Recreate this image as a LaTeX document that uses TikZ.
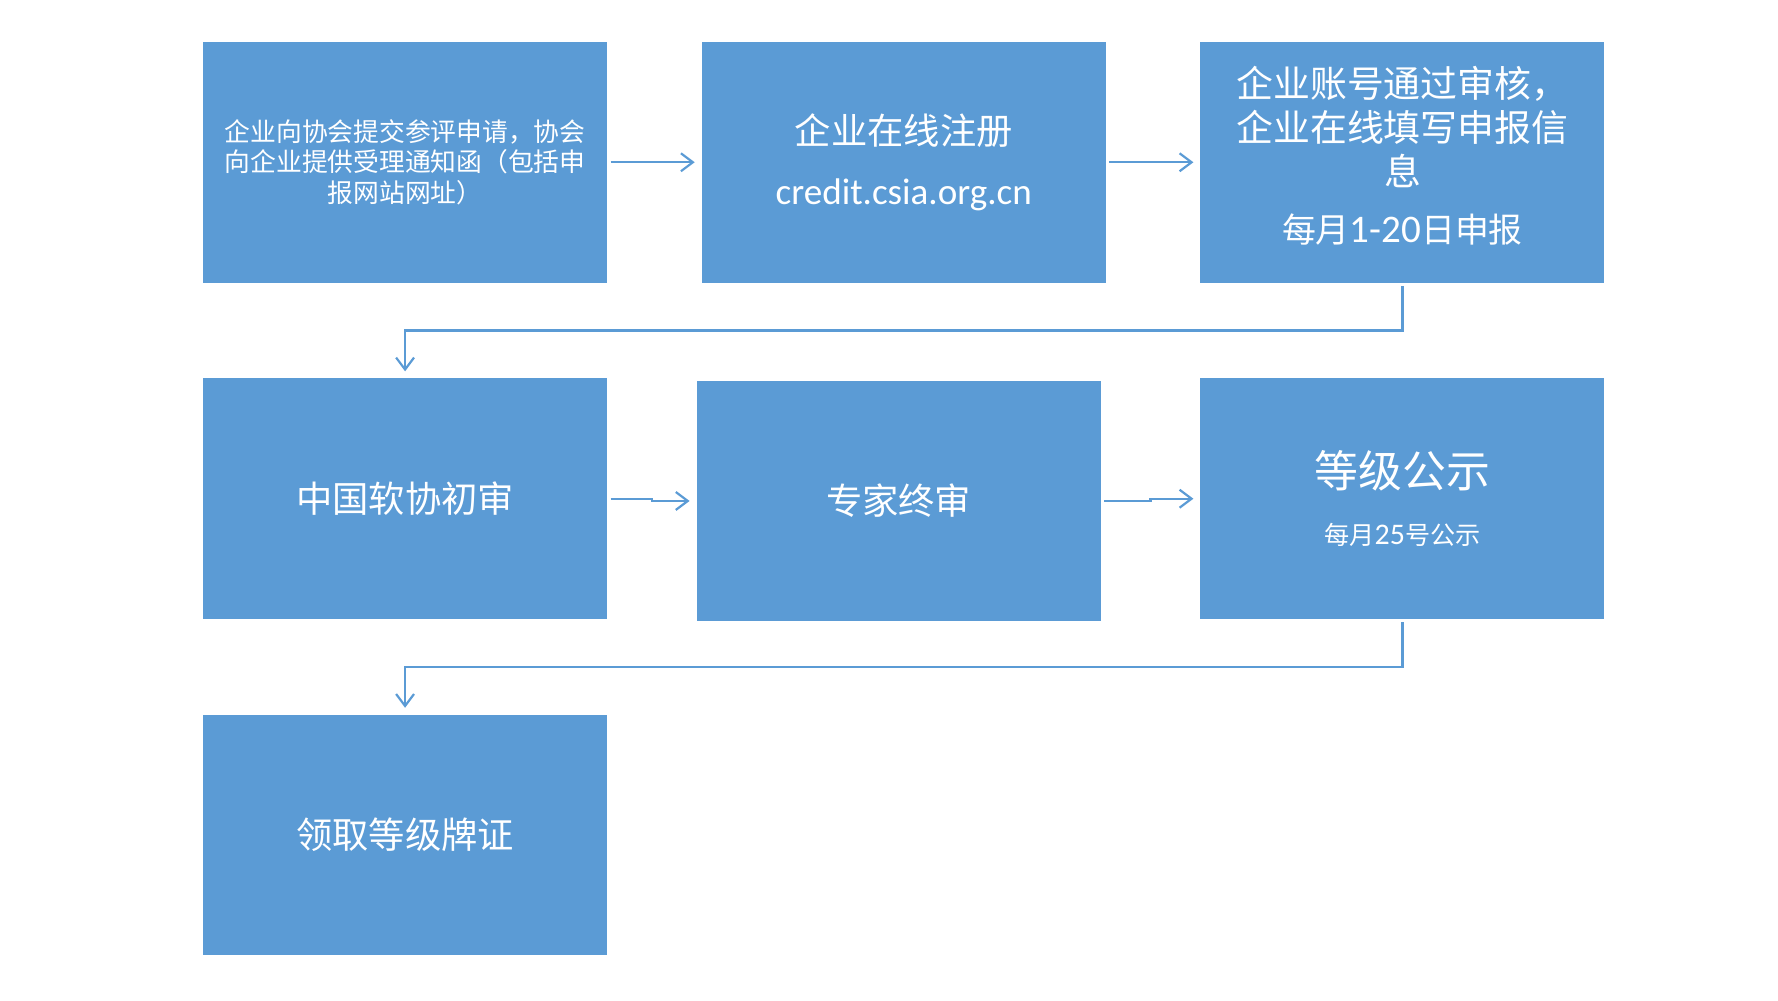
\documentclass[tikz,border=0pt]{standalone}
\usepackage{fontspec}
\setmainfont{Noto Sans CJK SC}
\newfontfamily\latin{Carlito}
\usepackage{tikz}
\usetikzlibrary{arrows.meta}
\usetikzlibrary{calc}
\usetikzlibrary{positioning}
\definecolor{boxblue}{HTML}{5B9BD5}
\tikzset{stage/.style={rectangle,fill=boxblue,text=white,
    minimum width=3.56cm,minimum height=2.12cm,
    inner sep=0pt,align=center,font=\fontsize{9.1}{11}\selectfont}}

\begin{document}
\begin{tikzpicture}[-{Straight Barb[length=3pt,width=4.5pt]},
    shorten >=1.5pt,
    shorten <=0.6pt,
    node distance=2.965cm and 4.395cm,
    on grid,
    color=boxblue,
    line width=0.55pt]

  \useasboundingbox (0,0) rectangle (15.67,-8.814);

  \node[stage,font=\fontsize{6.46}{7.7}\selectfont]
    (Apply) at (3.57,-1.43) {企业向协会提交参评申请，协会\\向企业提供受理通知函（包括申\\报网站网址）};
  \node[stage,font=\fontsize{9.1}{15}\selectfont]
    (Register) [right=of Apply] {企业在线注册\\{\latin\fontsize{9.3}{15}\selectfont credit.csia.org.cn}};
  \node[stage,font=\fontsize{9.25}{11}\selectfont]
    (Fill) [right=of Register] {企业账号通过审核，\\企业在线填写申报信\\息\\[3.3pt]{\fontsize{8.5}{12}\selectfont 每月{\latin\fontsize{9.8}{12}\selectfont 1-20}日申报}\rule[-4pt]{0pt}{0pt}};
  \node[stage]
    (Initial) [below=of Apply] {中国软协初审};
  \node[stage]
    (Final) [right=of Initial,xshift=-0.045cm,yshift=-0.02cm] {专家终审};
  \node[stage,font=\fontsize{11}{14.3}\selectfont]
    (Publish) [below=of Fill] {等级公示\\{\fontsize{6.3}{14.3}\selectfont 每月{\latin\fontsize{7.5}{14.3}\selectfont 25}号公示}};
  \node[stage]
    (Collect) [below=of Initial] {领取等级牌证};

  \path
    (Apply)    edge (Register)
    (Register) edge (Fill);
  \draw (Fill.south) |- ($(Fill.south)!.5!(Initial.north)$) -| (Initial.north);
  \draw (Initial.east) -| ($(Initial.east)!.5!(Final.west)$) |- (Final.west);
  \draw (Final.east) -| ($(Final.east)!.5!(Publish.west)$) |- (Publish.west);
  \draw (Publish.south) |- ($(Publish.south)!.5!(Collect.north)$) -| (Collect.north);

\end{tikzpicture}
\end{document}
